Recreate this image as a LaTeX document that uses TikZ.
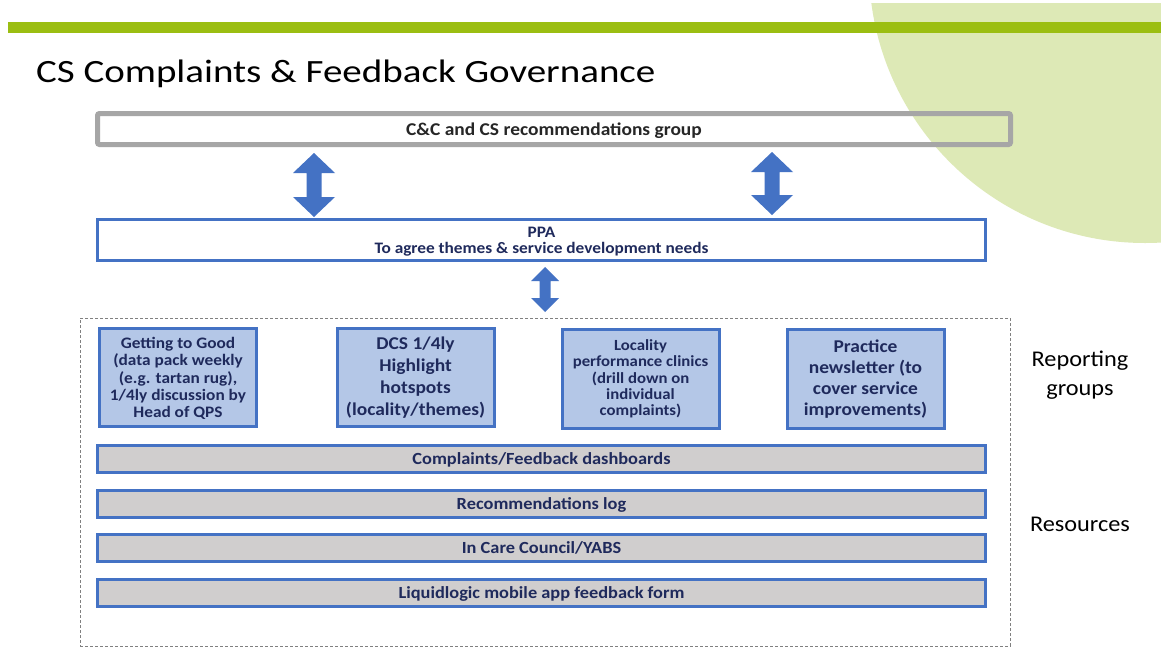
\documentclass[tikz,border=0pt]{standalone}
\usepackage{fontspec}
\setmainfont{Carlito}[FakeStretch=1.08]
\newfontfamily\titlefont{Carlito}[FakeStretch=1.2]
\usetikzlibrary{calc}

\definecolor{barGreen}{HTML}{9BBE12}
\definecolor{paleGreen}{HTML}{DDE9B6}
\definecolor{accBlue}{HTML}{4472C4}
\definecolor{lightBlue}{HTML}{B4C7E7}
\definecolor{panelGray}{HTML}{D0CECE}
\definecolor{frameGray}{HTML}{A6A6A6}
\definecolor{navy}{HTML}{1F2A5C}
\definecolor{dashGray}{HTML}{808080}

\begin{document}
\begin{tikzpicture}[x=1pt,y=-1pt,
  every node/.style={inner sep=0pt, outer sep=0pt},
  groupbox/.style={draw=accBlue, line width=3pt, fill=lightBlue,
    minimum width=157pt, minimum height=98pt, align=center, text=navy},
  resbar/.style={draw=accBlue, line width=3pt, fill=panelGray,
    minimum width=888pt, minimum height=27pt, text=navy, text depth=0pt,
    font=\fontsize{17}{17}\selectfont\bfseries},
  blockarrow/.style={fill=accBlue},
  sidelabel/.style={align=center, font=\fontsize{22.5}{29}\selectfont}
]
\useasboundingbox (0,0) rectangle (1161,648);
\fill[white] (0,0) rectangle (1161,648);

% pale green disc in the top right corner
\begin{scope}
  \clip (0,3) rectangle (1161,648);
  \fill[paleGreen] (1145,-33) circle[radius=276pt];
\end{scope}

% header rule
\fill[barGreen] (8,22) rectangle (1161,33);

% title
\node[anchor=base west, font=\titlefont\fontsize{32.5}{32.5}\selectfont]
  (title) at (36,82) {CS Complaints \& Feedback Governance};

% top level group
\node[draw=frameGray, line width=5pt, rounded corners=2pt,
  minimum width=913pt, minimum height=31pt, text depth=0pt,
  font=\fontsize{18}{18}\selectfont\bfseries, text=black!85]
  (crg) at (554,129) {C\&C and CS recommendations group};

% PPA
\node[draw=accBlue, line width=3pt, fill=white, minimum width=888pt,
  minimum height=41pt, align=center, text=navy, text depth=-0.7pt,
  font=\fontsize{16}{16}\selectfont\bfseries]
  (ppa) at (541.5,240) {PPA\\To agree themes \& service development needs};

% dashed frame around reporting groups and resources
\node[draw=dashGray, line width=0.8pt, dash pattern=on 3pt off 2pt,
  minimum width=930pt, minimum height=328pt] (frame) at (545,482) {};

% reporting groups
\node[groupbox, text depth=-2.6pt, font=\fontsize{16}{17.2}\selectfont\bfseries]
  (g2g) at (178,377.5)
  {Getting to Good\\(data pack weekly\\(e.g. tartan rug),\\1/4ly discussion by\\Head of QPS};
\node[groupbox, font=\fontsize{18}{22}\selectfont\bfseries]
  (dcs) at (415.5,377.5)
  {DCS 1/4ly\\Highlight\\hotspots\\(locality/themes)};
\node[groupbox, minimum height=99pt, font=\fontsize{15.5}{16.3}\selectfont\bfseries]
  (clinic) at (640.5,379)
  {Locality\\performance clinics\\(drill down on\\individual\\complaints)};
\node[groupbox, minimum height=99pt, font=\fontsize{18}{21}\selectfont\bfseries]
  (news) at (865.5,379)
  {Practice\\newsletter (to\\cover service\\improvements)};

% resources
\node[resbar] (dash) at (541.5,458.5) {Complaints/Feedback dashboards};
\node[resbar] (reclog) at (541.5,503.5) {Recommendations log};
\node[resbar] (council) at (541.5,548) {In Care Council/YABS};
\node[resbar] (app) at (541.5,593) {Liquidlogic mobile app feedback form};

% side labels
\node[sidelabel] (replab) at (1080,375) {Reporting\\groups};
\node[sidelabel] (reslab) at (1080,524) {Resources};

% two-way block arrows between the levels
\coordinate (xL) at (314,0);
\coordinate (xR) at (772,0);
\coordinate (xM) at (545,0);
\coordinate (aLt) at ($(xL |- crg.south)+(0,8.5)$);
\coordinate (aLb) at ($(xL |- ppa.north)+(0,-2.5)$);
\coordinate (aRt) at ($(xR |- crg.south)+(0,7.5)$);
\coordinate (aRb) at ($(xR |- ppa.north)+(0,-4.5)$);
\coordinate (aMt) at ($(xM |- ppa.south)+(0,6.5)$);
\coordinate (aMb) at ($(xM |- frame.north)+(0,-6)$);
\foreach \t/\b/\w/\s/\h in {aLt/aLb/21/7.5/20, aRt/aRb/21/7.5/20, aMt/aMb/14/5.5/14}{
  \fill[blockarrow] (\t) -- ($(\t)+(\w,\h)$) -- ($(\t)+(\s,\h)$)
    -- ($(\b)+(\s,-\h)$) -- ($(\b)+(\w,-\h)$) -- (\b)
    -- ($(\b)+(-\w,-\h)$) -- ($(\b)+(-\s,-\h)$)
    -- ($(\t)+(-\s,\h)$) -- ($(\t)+(-\w,\h)$) -- cycle;
}
\end{tikzpicture}
\end{document}
